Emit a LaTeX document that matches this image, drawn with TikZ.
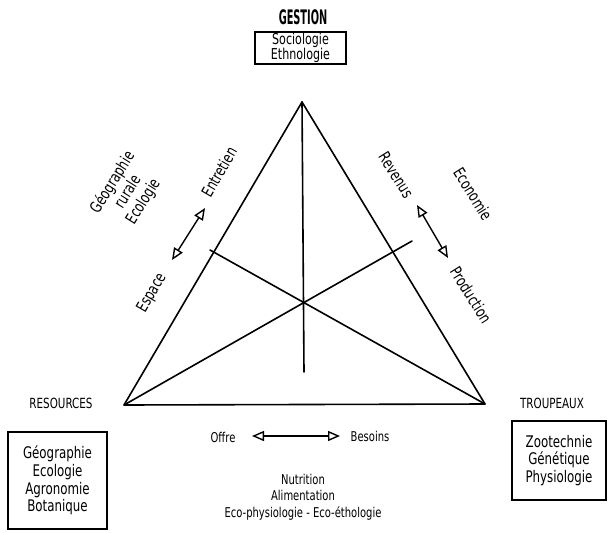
\documentclass[tikz,border=0pt]{standalone}
\usepackage{fontspec}
\setmainfont{DejaVu Sans}[FakeStretch=0.74]
\usetikzlibrary{arrows.meta}
\begin{document}
\begin{tikzpicture}[x=1pt,y=-1pt,
  edge/.style={line width=1.6pt, line cap=round, line join=round},
  lbl/.style={font=\fontsize{13.5}{16.5}\selectfont, inner sep=0pt, align=center},
  side/.style={font=\fontsize{16}{18}\selectfont, inner sep=0pt, align=center},
  pole/.style={font=\fontsize{14}{16}\selectfont, inner sep=0pt},
  field/.style={draw, line width=1.1pt, align=center, inner sep=0pt},
  dbl/.style={line width=1.4pt,
    {Triangle[open,length=12pt,width=10pt]}-{Triangle[open,length=12pt,width=10pt]}}
]
\useasboundingbox (0,0) rectangle (609,532);

% vertices of the triangle and ends of the three medians
\coordinate (T) at (302,102);
\coordinate (L) at (124,405);
\coordinate (R) at (485,404);
\coordinate (vEnd) at (304,372);
\coordinate (rEnd) at (412,241);
\coordinate (lEnd) at (210,250);

\draw[edge] (T) -- (L) -- (R) -- cycle;
\draw[edge] (T) -- (vEnd);
\draw[edge] (L) -- (rEnd);
\draw[edge] (R) -- (lEnd);

% top pole
\node[inner sep=0pt, font=\bfseries\fontsize{20}{22}\selectfont] (gestion) at (303,17)
  {\scalebox{0.66}[1]{GESTION}};
\node[field, minimum width=91pt, minimum height=32pt,
      font=\fontsize{15}{15}\selectfont] (gbox) at (300.5,48)
  {Sociologie\\Ethnologie};

% left pole
\node[pole] (res) at (61,403) {RESOURCES};
\node[field, minimum width=99pt, minimum height=97pt,
      font=\fontsize{16}{17.7}\selectfont] (rbox) at (57.5,480.5)
  {Géographie\\Ecologie\\Agronomie\\Botanique};

% right pole
\node[pole] (trp) at (552,403) {TROUPEAUX};
\node[field, minimum width=94pt, minimum height=79pt,
      font=\fontsize{16}{17.5}\selectfont] (tbox) at (559,460.5)
  {Zootechnie\\Génétique\\Physiologie};

% left side labels
\node[side, rotate=58] (geo) at (128,192) {Géographie\\rurale\\Ecologie};
\node[side, rotate=60] (entr) at (219,172) {Entretien};
\node[side, rotate=60] (esp) at (152,293) {Espace};
\coordinate (aL1) at (205,208);
\coordinate (aL2) at (172,260);
\draw[dbl] (aL1) -- (aL2);

% right side labels
\node[side, rotate=-58] (rev) at (396,175) {Revenus};
\node[side, rotate=-58] (eco) at (473,194) {Economie};
\node[side, rotate=-58] (prod) at (471,295) {Production};
\coordinate (aR1) at (417,205);
\coordinate (aR2) at (448,258);
\draw[dbl] (aR1) -- (aR2);

% base labels
\node[lbl] (offre) at (223,437) {Offre};
\node[lbl] (bes) at (370,436) {Besoins};
\coordinate (aB1) at (252,436);
\coordinate (aB2) at (340,436);
\draw[dbl] (aB1) -- (aB2);
\node[lbl] (nut) at (303,497)
  {Nutrition\\Alimentation\\Eco-physiologie - Eco-éthologie};
\end{tikzpicture}
\end{document}
